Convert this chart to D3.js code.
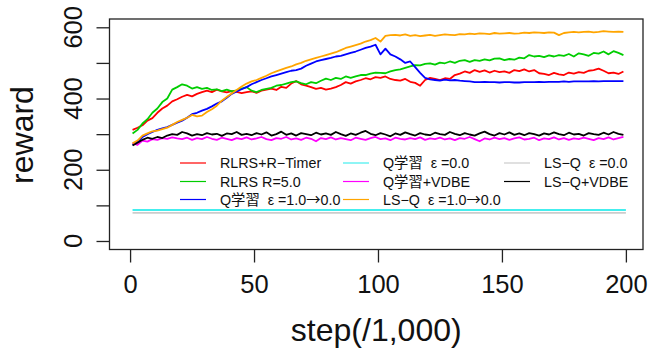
<!DOCTYPE html>
<html>
<head>
<meta charset="utf-8">
<script src="https://cdn.jsdelivr.net/npm/d3@7"></script>
<style>
  body { margin: 0; background: #fff; }
  svg { display: block; font-family: "Liberation Sans", Arial, Helvetica, "Noto Sans CJK JP", sans-serif; }
</style>
</head>
<body>
<svg id="chart" width="648" height="352"></svg>
<script>
// steps (x1,000) sampled every 2
const steps = d3.range(1, 200, 2);
const flatSteps = [1, 200];

const rlrsTimer = [312,318,325,338,345,360,372,380,392,398,405,410,406,413,418,422,418,425,420,417,
  421,419,415,418,420,416,422,425,428,424,433,430,442,449,440,436,432,427,430,425,
  428,432,438,446,442,448,452,457,454,460,458,462,455,452,450,455,447,444,436,452,
  458,455,452,457,455,466,470,476,472,480,475,479,473,478,474,476,472,480,477,482,
  476,480,471,469,466,472,468,466,473,470,474,472,478,480,484,478,471,473,469,476];

const rlrsR5 = [302,312,330,342,360,372,390,400,425,432,440,436,428,432,427,430,424,426,421,425,
  420,423,428,432,422,418,424,427,430,436,438,442,446,448,443,440,446,443,450,456,
  452,458,455,462,458,462,466,466,470,473,472,471,476,480,482,486,490,494,493,497,
  499,495,501,499,504,500,506,508,503,508,506,510,507,512,513,508,511,509,515,513,
  522,518,520,516,521,518,522,520,525,518,527,524,520,528,526,532,524,533,528,522];

const qDecay = [270,278,292,300,306,312,316,320,326,332,338,346,356,360,366,371,378,386,392,402,
  413,420,426,432,440,446,452,457,462,466,470,474,478,480,484,492,498,504,508,511,
  514,518,520,524,528,532,537,542,546,551,524,540,524,518,510,500,504,488,472,458,
  454,452,450,453,451,452,450,449,448,446,446,447,446,446,445,446,446,445,445,446,
  446,446,447,446,447,447,447,448,447,448,448,448,448,449,448,449,449,449,449,449];

const qZero = [87, 87];

const qVdbe = [275,270,282,279,286,284,289,287,291,288,286,290,284,289,286,292,287,284,290,287,
  283,289,286,291,285,288,292,286,283,289,287,292,285,288,284,290,287,280,289,286,
  291,285,289,286,283,290,287,284,289,292,286,288,283,290,287,285,289,286,291,284,
  288,286,290,285,288,283,289,287,292,286,280,288,285,290,286,289,284,288,291,285,
  287,290,283,288,286,291,285,289,284,288,286,290,287,283,289,286,291,285,289,292];

const lsqDecay = [274,282,296,302,308,310,314,318,326,334,340,346,354,350,352,362,370,380,394,404,
  414,424,434,442,448,452,458,464,471,476,481,486,490,496,500,506,510,514,518,522,
  526,530,536,542,546,550,554,560,564,570,560,576,578,579,577,580,576,578,575,577,
  579,576,578,580,579,578,581,580,582,581,583,582,581,584,582,583,584,582,583,585,
  584,586,585,584,586,585,578,584,586,587,586,587,588,586,587,589,588,587,588,587];

const lsqZero = [79, 79];

const lsqVdbe = [268,276,284,290,287,292,289,296,300,298,306,302,296,300,297,303,299,301,295,302,
  300,306,298,301,297,303,299,305,296,300,307,298,302,296,303,300,297,304,299,302,
  298,306,300,295,302,298,304,309,301,297,303,299,294,302,298,305,300,296,303,299,
  297,304,300,298,306,301,297,303,299,296,302,307,300,296,303,299,305,298,302,297,
  303,300,296,302,299,305,300,297,304,299,301,296,303,300,298,304,299,306,301,298];

const xTicks = [0, 50, 100, 150, 200];
const yTicks = [0, 100, 200, 300, 400, 500, 600];
const yLabels = [0, 200, 400, 600];

const series = [
  { name: "RLRS+R\u2212Timer", color: "#ff0000", x: steps, y: rlrsTimer },
  { name: "RLRS R=5.0", color: "#00cd00", x: steps, y: rlrsR5 },
  { name: "Q学習  \u03b5 =1.0\u21920.0", color: "#0000ff", x: steps, y: qDecay },
  { name: "Q学習  \u03b5 =0.0", color: "#44eeee", x: flatSteps, y: qZero },
  { name: "Q学習+VDBE", color: "#ff00ff", x: steps, y: qVdbe },
  { name: "LS\u2212Q  \u03b5 =1.0\u21920.0", color: "#ffa500", x: steps, y: lsqDecay },
  { name: "LS\u2212Q  \u03b5 =0.0", color: "#cccccc", x: flatSteps, y: lsqZero },
  { name: "LS\u2212Q+VDBE", color: "#000000", x: steps, y: lsqVdbe }
];

const svg = d3.select("#chart");

// plot region (box) in pixels
const box = { left: 109.5, right: 643, top: 19, bottom: 249.5 };

const x = d3.scaleLinear().domain([-8.3, 206.9]).range([box.left, box.right]);
const y = d3.scaleLinear().domain([-23.9, 623.3]).range([box.bottom, box.top]);

const line = d3.line().x(d => x(d[0])).y(d => y(d[1]));

// data lines
svg.append("g")
  .selectAll("path")
  .data(series)
  .join("path")
  .attr("fill", "none")
  .attr("stroke", d => d.color)
  .attr("stroke-width", 1.8)
  .attr("stroke-linejoin", "round")
  .attr("d", d => line(d.x.map((v, i) => [v, d.y[i]])));

// box
svg.append("rect")
  .attr("x", box.left).attr("y", box.top)
  .attr("width", box.right - box.left).attr("height", box.bottom - box.top)
  .attr("fill", "none").attr("stroke", "#222").attr("stroke-width", 1.3);

// x axis
const xAxis = svg.append("g")
  .attr("transform", `translate(0,${box.bottom})`)
  .call(d3.axisBottom(x).tickValues(xTicks).tickSize(13).tickPadding(12));
xAxis.select(".domain").remove();
xAxis.selectAll("line").attr("stroke", "#222").attr("stroke-width", 1.3);
xAxis.selectAll("text").attr("font-size", 25.5).attr("fill", "#111")
  .attr("font-family", "Liberation Sans, Arial, sans-serif");

// y axis
const yAxis = svg.append("g")
  .attr("transform", `translate(${box.left},0)`)
  .call(d3.axisLeft(y).tickValues(yTicks).tickSize(13).tickFormat(() => ""));
yAxis.select(".domain").remove();
yAxis.selectAll("line").attr("stroke", "#222").attr("stroke-width", 1.3);

svg.append("g")
  .selectAll("text")
  .data(yLabels)
  .join("text")
  .attr("transform", d => `translate(82,${y(d)}) rotate(-90)`)
  .attr("text-anchor", "middle")
  .attr("font-size", 25.5)
  .attr("fill", "#111")
  .text(d => d);

// axis titles
svg.append("text")
  .attr("transform", `translate(33,135) rotate(-90)`)
  .attr("text-anchor", "middle")
  .attr("font-size", 32)
  .attr("fill", "#111")
  .text("reward");

svg.append("text")
  .attr("x", (box.left + box.right) / 2)
  .attr("y", 341)
  .attr("text-anchor", "middle")
  .attr("font-size", 32)
  .attr("fill", "#111")
  .text("step(/1,000)");

// legend (three columns, no frame)
const legCols = [180, 343, 504];
const legRows = [163, 181.5, 199.5];
const legendOrder = [0, 1, 2, 3, 4, 5, 6, 7];
const leg = svg.append("g")
  .selectAll("g")
  .data(legendOrder)
  .join("g")
  .attr("transform", i => `translate(${legCols[Math.floor(i / 3)]},${legRows[i % 3]})`);

leg.append("line")
  .attr("x1", 0).attr("x2", 26)
  .attr("stroke", i => series[i].color)
  .attr("stroke-width", 1.2);

// arrow drawn with the CJK font so it is full width like the original
leg.append("text")
  .attr("x", 40)
  .attr("dy", "0.36em")
  .attr("font-size", 14.3)
  .attr("fill", "#111")
  .style("white-space", "pre")
  .each(function(i) {
    const parts = series[i].name.split("\u2192");
    const t = d3.select(this);
    parts.forEach((p, k) => {
      if (k > 0) t.append("tspan").attr("font-family", "Noto Sans CJK JP").text("\u2192");
      t.append("tspan").text(p);
    });
  });
</script>
</body>
</html>
